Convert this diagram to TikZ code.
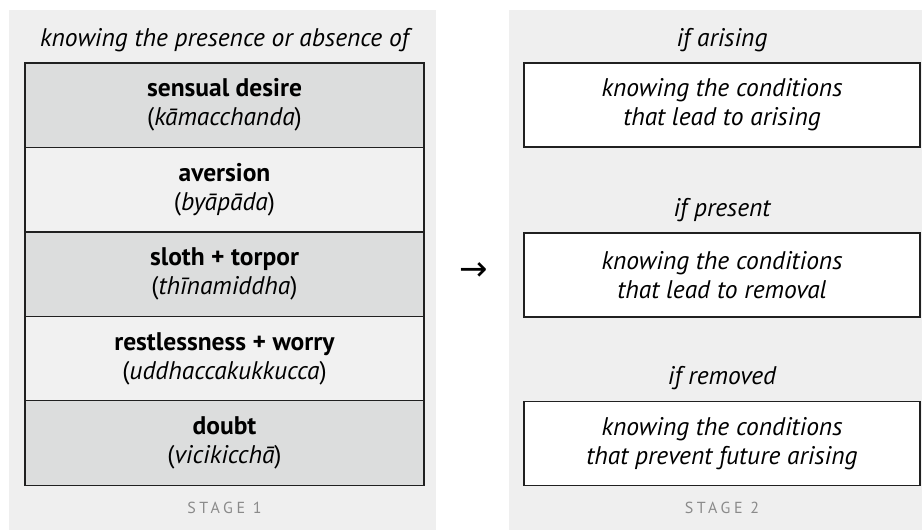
\documentclass[tikz,border=0pt]{standalone}
\usepackage{fontspec}
\setmainfont{PT Sans}
\newfontfamily\arrowfont{DejaVu Sans}
\definecolor{panelbg}{HTML}{EFEFEF}
\definecolor{darkbox}{HTML}{DCDDDD}
\definecolor{lightbox}{HTML}{F1F1F1}
\definecolor{stagegray}{HTML}{8A8A8A}
\definecolor{edge}{HTML}{202020}
\begin{document}
\begin{tikzpicture}[x=1pt,y=-1pt,
  panel/.style={fill=panelbg},
  hbox/.style={draw=edge,line width=1.4pt,minimum width=399pt,minimum height=84.5pt,inner sep=0pt,align=center,
    font=\fontsize{25.5}{29}\selectfont},
  darkh/.style={hbox,fill=darkbox},
  lighth/.style={hbox,fill=lightbox},
  condbox/.style={draw=edge,line width=1.4pt,fill=white,minimum width=396pt,minimum height=84pt,inner sep=0pt,align=center,
    font=\fontsize{25.5}{29}\selectfont\itshape},
  headtxt/.style={font=\fontsize{25.5}{29}\selectfont\itshape},
  stagetxt/.style={font=\fontsize{16}{18}\selectfont\addfontfeature{LetterSpace=22},text=stagegray}
]
\useasboundingbox (0,0) rectangle (922,531);
\fill[white] (0,0) rectangle (922,531);
\fill[panel] (9,10) rectangle (436,530);
\fill[panel] (509,10) rectangle (922,530);

% left column
\node[headtxt] (lhead) at (224.5,40) {knowing the presence or absence of};
\node[darkh]  (b1) at (224.5,105.2) {\textbf{sensual desire}\\(\textit{kāmacchanda})};
\node[lighth] (b2) at (224.5,189.6) {\textbf{aversion}\\(\textit{byāpāda})};
\node[darkh]  (b3) at (224.5,274.1) {\textbf{sloth + torpor}\\(\textit{thīnamiddha})};
\node[lighth] (b4) at (224.5,358.6) {\textbf{restlessness + worry}\\(\textit{uddhaccakukkucca})};
\node[darkh]  (b5) at (224.5,443.0) {\textbf{doubt}\\(\textit{vicikicchā})};
\node[stagetxt] (s1) at (224.5,508) {STAGE 1};

% arrow
\node[font=\fontsize{34}{34}\selectfont\arrowfont,inner sep=0pt] (arr) at (473.5,272) {→};

% right column
\node[headtxt] (h1) at (722,40) {if arising};
\node[condbox] (c1) at (722,105) {knowing the conditions\\that lead to arising};
\node[headtxt] (h2) at (722,210) {if present};
\node[condbox] (c2) at (722,275) {knowing the conditions\\that lead to removal};
\node[headtxt] (h3) at (722,378) {if removed};
\node[condbox] (c3) at (722,443.5) {knowing the conditions\\that prevent future arising};
\node[stagetxt] (s2) at (722,508) {STAGE 2};
\end{tikzpicture}
\end{document}
